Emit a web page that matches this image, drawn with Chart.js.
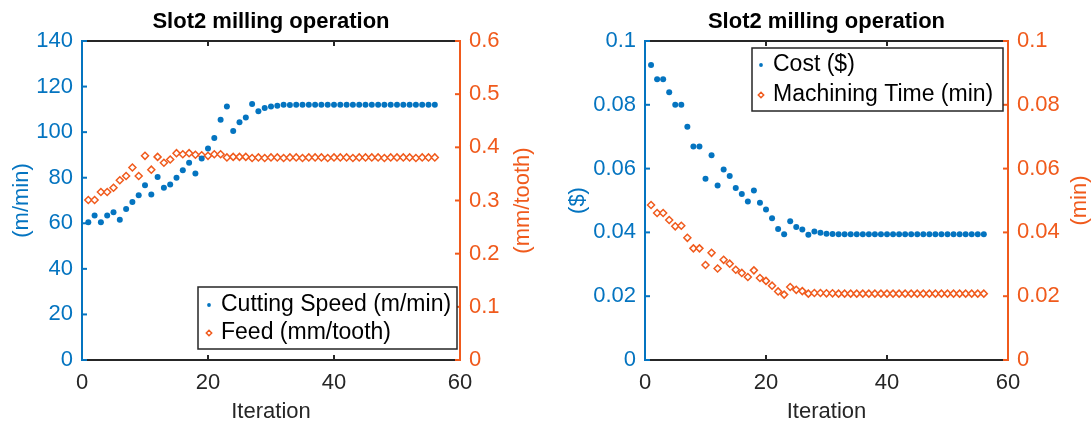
<!DOCTYPE html>
<html>
<head>
<meta charset="utf-8">
<script src="https://cdn.jsdelivr.net/npm/chart.js@4.4.1/dist/chart.umd.min.js"></script>
<style>
  html, body { margin: 0; padding: 0; background: #fff; }
  #wrap { position: relative; width: 1091px; height: 426px; overflow: hidden; }
  .pane { position: absolute; top: 0; height: 426px; }
  #paneA { left: 0; width: 545px; }
  #paneB { left: 545px; width: 546px; }
</style>
</head>
<body>
<div id="wrap">
  <div class="pane" id="paneA"><canvas id="speedFeed"></canvas></div>
  <div class="pane" id="paneB"><canvas id="costTime"></canvas></div>
</div>
<script>
// Optimisation history for the Slot2 milling operation
const iterations = [
  1, 2, 3, 4, 5, 6, 7, 8, 9, 10,
  11, 12, 13, 14, 15, 16, 17, 18, 19, 20,
  21, 22, 23, 24, 25, 26, 27, 28, 29, 30,
  31, 32, 33, 34, 35, 36, 37, 38, 39, 40,
  41, 42, 43, 44, 45, 46, 47, 48, 49, 50,
  51, 52, 53, 54, 55, 56
];
const cuttingSpeed = [
  60.4, 63.4, 60.4, 63.4, 64.8, 61.6, 66.3, 69.3, 72.3, 76.7,
  72.6, 80.3, 75.6, 77.0, 80.0, 83.3, 86.6, 81.8, 88.4, 92.8,
  97.4, 105.4, 111.3, 100.5, 104.3, 106.4, 112.3, 109.2, 110.6, 111.2,
  111.6, 112.0, 111.9, 112.0, 112.0, 112.0, 112.0, 112.0, 112.0, 112.0,
  112.0, 112.0, 112.0, 112.0, 112.0, 112.0, 112.0, 112.0, 112.0, 112.0,
  112.0, 112.0, 112.0, 112.0, 112.0, 112.0
];
const feedPerTooth = [
  0.301, 0.301, 0.316, 0.316, 0.324, 0.338, 0.346, 0.362, 0.346, 0.384,
  0.358, 0.382, 0.371, 0.377, 0.389, 0.387, 0.389, 0.386, 0.385, 0.384,
  0.387, 0.387, 0.381, 0.382, 0.382, 0.382, 0.380, 0.381, 0.380, 0.381,
  0.381, 0.380, 0.381, 0.381, 0.380, 0.381, 0.381, 0.381, 0.380, 0.381,
  0.381, 0.381, 0.380, 0.381, 0.381, 0.381, 0.381, 0.380, 0.381, 0.381,
  0.381, 0.381, 0.380, 0.381, 0.381, 0.381
];
const cost = [
  0.0925, 0.0880, 0.0880, 0.0839, 0.0800, 0.0800, 0.0731, 0.0669, 0.0669, 0.0568,
  0.0642, 0.0547, 0.0597, 0.0577, 0.0539, 0.0520, 0.0497, 0.0531, 0.0493, 0.0472,
  0.0444, 0.0411, 0.0394, 0.0435, 0.0417, 0.0409, 0.0393, 0.0403, 0.0399, 0.0396,
  0.0395, 0.0394, 0.0394, 0.0394, 0.0394, 0.0394, 0.0394, 0.0394, 0.0394, 0.0394,
  0.0394, 0.0394, 0.0394, 0.0394, 0.0394, 0.0394, 0.0394, 0.0394, 0.0394, 0.0394,
  0.0394, 0.0394, 0.0394, 0.0394, 0.0394, 0.0394
];
const machiningTime = [
  0.0486, 0.0461, 0.0461, 0.0439, 0.0419, 0.0421, 0.0383, 0.0350, 0.0350, 0.0298,
  0.0336, 0.0287, 0.0314, 0.0302, 0.0283, 0.0273, 0.0260, 0.0281, 0.0257, 0.0248,
  0.0233, 0.0215, 0.0205, 0.0229, 0.0220, 0.0216, 0.0208, 0.0210, 0.0210, 0.0209,
  0.0209, 0.0208, 0.0208, 0.0208, 0.0208, 0.0208, 0.0208, 0.0208, 0.0208, 0.0208,
  0.0208, 0.0208, 0.0208, 0.0208, 0.0208, 0.0208, 0.0208, 0.0208, 0.0208, 0.0208,
  0.0208, 0.0208, 0.0208, 0.0208, 0.0208, 0.0208
];

// Tick values
const iterationTicks = [0, 20, 40, 60];
const speedTicks = [0, 20, 40, 60, 80, 100, 120, 140];
const feedTicks = [0, 0.1, 0.2, 0.3, 0.4, 0.5, 0.6];
const costTicks = [0, 0.02, 0.04, 0.06, 0.08, 0.1];
const timeTicks = [0, 0.02, 0.04, 0.06, 0.08, 0.1];

// Labels
const chartTitle = 'Slot2 milling operation';
const xTitle = 'Iteration';
const speedLabel = 'Cutting Speed (m/min)';
const feedLabel = 'Feed (mm/tooth)';
const costLabel = 'Cost ($)';
const timeLabel = 'Machining Time (min)';

const BLUE = '#0474C0';
const ORANGE = '#F05A1C';
const INK = '#262626';
const FONT = "'Liberation Sans', Arial, Helvetica, sans-serif";

// Axis lines with inward tick marks, the right-hand axis title and a boxed legend
const framePlugin = {
  id: 'frame',
  afterDraw(chart, args, o) {
    const { ctx, chartArea: a, scales } = chart;
    const xs = scales.x, yl = scales.y, yr = scales.y2;
    const L = 5;
    const seg = (x1, y1, x2, y2) => { ctx.beginPath(); ctx.moveTo(x1, y1); ctx.lineTo(x2, y2); ctx.stroke(); };
    ctx.save();
    ctx.lineWidth = 2;
    ctx.lineCap = 'square';
    ctx.strokeStyle = INK;
    seg(a.left, a.top, a.right, a.top);
    seg(a.left, a.bottom, a.right, a.bottom);
    ctx.lineCap = 'butt';
    xs.ticks.forEach(t => {
      const x = xs.getPixelForValue(t.value);
      seg(x, a.bottom, x, a.bottom - L);
      seg(x, a.top, x, a.top + L);
    });
    ctx.strokeStyle = o.leftColor;
    seg(a.left, a.top - 1, a.left, a.bottom + 1);
    yl.ticks.forEach(t => { const y = yl.getPixelForValue(t.value); seg(a.left, y, a.left + L, y); });
    ctx.strokeStyle = o.rightColor;
    seg(a.right, a.top - 1, a.right, a.bottom + 1);
    yr.ticks.forEach(t => { const y = yr.getPixelForValue(t.value); seg(a.right, y, a.right - L, y); });

    // right axis title, reading bottom to top
    ctx.fillStyle = o.rightColor;
    ctx.font = '22px ' + FONT;
    ctx.textAlign = 'center';
    ctx.textBaseline = 'middle';
    ctx.translate(o.rightTitleX, (a.top + a.bottom) / 2);
    ctx.rotate(-Math.PI / 2);
    ctx.fillText(o.rightTitle, 0, 0);
    ctx.restore();

    // legend
    const lg = o.legend;
    ctx.save();
    ctx.fillStyle = '#fff';
    ctx.fillRect(lg.x, lg.y, lg.w, lg.h);
    ctx.strokeStyle = INK;
    ctx.lineWidth = 1.5;
    ctx.strokeRect(lg.x, lg.y, lg.w, lg.h);
    ctx.font = '23px ' + FONT;
    ctx.textAlign = 'left';
    ctx.textBaseline = 'middle';
    chart.data.datasets.forEach((ds, i) => {
      const cy = lg.y + lg.rowTop + i * lg.rowGap;
      const mx = lg.x + lg.markerX;
      ctx.fillStyle = ds.pointBackgroundColor;
      ctx.strokeStyle = ds.pointBorderColor;
      Chart.helpers.drawPoint(ctx, {
        pointStyle: ds.pointStyle,
        radius: ds.pointStyle === 'circle' ? 1.9 : 2.7,
        borderWidth: ds.pointBorderWidth,
        rotation: 0
      }, mx, cy);
      ctx.fillStyle = '#000';
      ctx.fillText(ds.label, lg.x + lg.textX, cy);
    });
    ctx.restore();
  }
};

function fixedWidth(w) { return s => { s.width = w; }; }

function makeChart(canvasId, cfg) {
  const pts = vals => iterations.map((it, i) => ({ x: it, y: vals[i] }));
  return new Chart(document.getElementById(canvasId), {
    type: 'scatter',
    data: {
      datasets: [
        {
          label: cfg.leftLabel,
          data: pts(cfg.leftValues),
          yAxisID: 'y',
          pointStyle: 'circle',
          pointRadius: 3,
          pointBackgroundColor: BLUE,
          pointBorderColor: BLUE,
          pointBorderWidth: 0,
          showLine: false
        },
        {
          label: cfg.rightLabel,
          data: pts(cfg.rightValues),
          yAxisID: 'y2',
          pointStyle: 'rectRot',
          pointRadius: 3.5,
          pointBackgroundColor: '#fff',
          pointBorderColor: ORANGE,
          pointBorderWidth: 1.5,
          showLine: false
        }
      ]
    },
    options: {
      responsive: true,
      maintainAspectRatio: false,
      animation: false,
      events: [],
      layout: { padding: 0 },
      plugins: {
        legend: { display: false },
        tooltip: { enabled: false },
        title: {
          display: true,
          text: chartTitle,
          fullSize: false,
          color: '#000',
          font: { family: FONT, size: 22, weight: 'bold', lineHeight: 1.2 },
          padding: { top: 9, bottom: 5.6 }
        },
        frame: {
          leftColor: BLUE,
          rightColor: ORANGE,
          rightTitle: cfg.rightTitle,
          rightTitleX: cfg.rightTitleX,
          legend: cfg.legend
        }
      },
      scales: {
        x: {
          type: 'linear',
          min: 0, max: 60,
          afterBuildTicks: s => { s.ticks = iterationTicks.map(v => ({ value: v })); },
          afterFit: s => { s.height = 66; },
          grid: { display: false, drawTicks: false },
          border: { display: false },
          ticks: { color: INK, padding: 10, font: { family: FONT, size: 22 }, callback: v => String(v) },
          title: { display: true, text: xTitle, color: INK, font: { family: FONT, size: 22 }, padding: { top: 0, bottom: 1 } }
        },
        y: {
          type: 'linear',
          position: 'left',
          min: cfg.leftTicks[0], max: cfg.leftTicks[cfg.leftTicks.length - 1],
          afterBuildTicks: s => { s.ticks = cfg.leftTicks.map(v => ({ value: v })); },
          afterFit: fixedWidth(cfg.leftWidth),
          grid: { display: false, drawTicks: false },
          border: { display: false },
          ticks: { color: BLUE, padding: 9, font: { family: FONT, size: 22 }, callback: v => String(v) },
          title: { display: true, text: cfg.leftTitle, color: BLUE, font: { family: FONT, size: 22 }, padding: { top: cfg.leftTitlePad, bottom: 0 } }
        },
        y2: {
          type: 'linear',
          position: 'right',
          min: cfg.rightTicks[0], max: cfg.rightTicks[cfg.rightTicks.length - 1],
          afterBuildTicks: s => { s.ticks = cfg.rightTicks.map(v => ({ value: v })); },
          afterFit: fixedWidth(cfg.rightWidth),
          grid: { display: false, drawTicks: false },
          border: { display: false },
          ticks: { color: ORANGE, padding: 9, font: { family: FONT, size: 22 }, callback: v => String(v) }
        }
      }
    },
    plugins: [framePlugin]
  });
}

makeChart('speedFeed', {
  leftValues: cuttingSpeed, rightValues: feedPerTooth,
  leftLabel: speedLabel, rightLabel: feedLabel,
  leftTicks: speedTicks, rightTicks: feedTicks,
  leftTitle: '(m/min)', rightTitle: '(mm/tooth)',
  leftWidth: 82, rightWidth: 85,
  leftTitlePad: 9, rightTitleX: 523,
  legend: { x: 198, y: 287, w: 259, h: 62, markerX: 11, textX: 23, rowTop: 18, rowGap: 28 }
});

makeChart('costTime', {
  leftValues: cost, rightValues: machiningTime,
  leftLabel: costLabel, rightLabel: timeLabel,
  leftTicks: costTicks, rightTicks: timeTicks,
  leftTitle: '($)', rightTitle: '(min)',
  leftWidth: 100, rightWidth: 83,
  leftTitlePad: 20, rightTitleX: 535,
  legend: { x: 207, y: 48, w: 251, h: 63, markerX: 9, textX: 21, rowTop: 17, rowGap: 30 }
});
</script>
</body>
</html>
